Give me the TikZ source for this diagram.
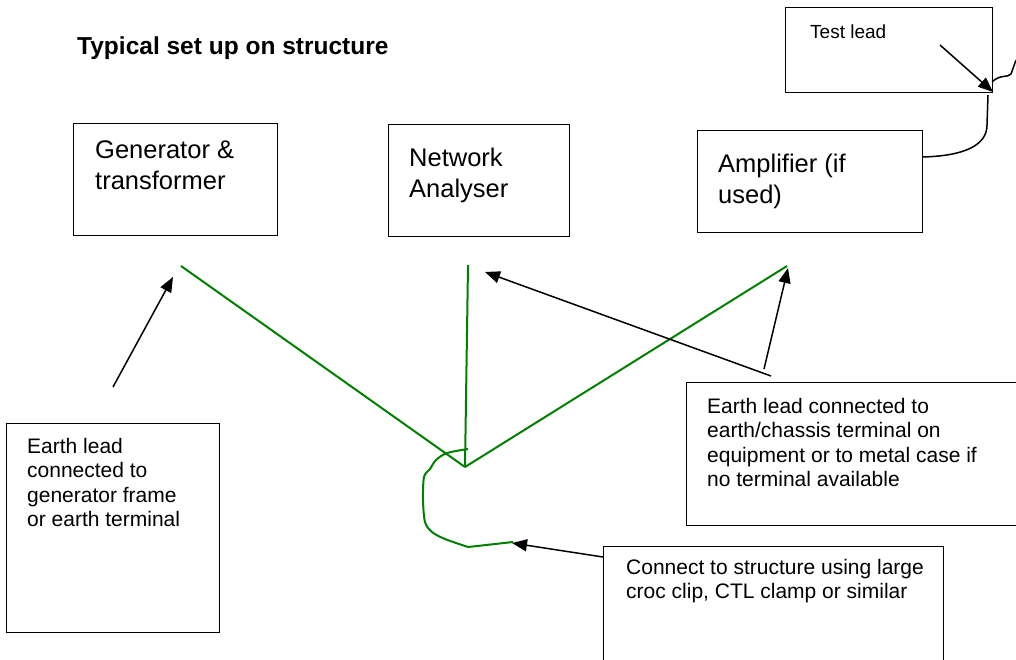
\documentclass[tikz,border=0pt]{standalone}
\usepackage{fontspec}
\setmainfont{Liberation Sans}
\usetikzlibrary{arrows.meta}
\tikzset{
  box/.style={draw=black, line width=1.4pt, inner sep=0pt, anchor=north west},
  big/.style={inner sep=0pt, anchor=north west, align=left, font=\fontsize{25.5}{31}\selectfont},
  small/.style={inner sep=0pt, anchor=north west, align=left, font=\fontsize{21}{24.5}\selectfont},
  earth/.style={draw={rgb,255:red,0;green,128;blue,0}, line width=2pt},
  ptr/.style={draw=black, line width=1.5pt, -{Triangle[length=15pt,width=12pt]}},
  wire/.style={draw=black, line width=1.5pt}
}
\begin{document}
\begin{tikzpicture}[x=1pt,y=-1pt]
\useasboundingbox (0,0) rectangle (1016,659);
\clip (0,0) rectangle (1016,659);
% title
\node[inner sep=0pt, anchor=base west, font=\bfseries\fontsize{24.5}{29}\selectfont] (title) at (77,54) {Typical set up on structure};
% equipment boxes
\node[box, minimum width=204, minimum height=112] (gen) at (73,123) {};
\node[big] (gent) at (95,140.6) {Generator \&\\transformer};
\node[box, minimum width=181, minimum height=112] (net) at (388,124) {};
\node[big] (nett) at (409,147.6) {Network\\Analyser};
\node[box, minimum width=225, minimum height=102] (amp) at (697,130) {};
\node[big] (ampt) at (718,153.6) {Amplifier (if\\used)};
\node[box, minimum width=207, minimum height=85] (tl) at (785,7) {};
\node[inner sep=0pt, anchor=base west, font=\fontsize{19}{23}\selectfont] (tlt) at (810,38) {Test lead};
% note boxes
\node[box, minimum width=213, minimum height=209] (lbox) at (6,423) {};
\node[small] (lboxt) at (27,437.9) {Earth lead\\connected to\\generator frame\\or earth terminal};
\node[box, minimum width=360, minimum height=143] (rbox) at (686,382) {};
\node[small] (rboxt) at (707,397.9) {Earth lead connected to\\earth/chassis terminal on\\equipment or to metal case if\\no terminal available};
\node[box, minimum width=340, minimum height=140] (bbox) at (603,546) {};
\node[small] (bboxt) at (626,558.9) {Connect to structure using large\\croc clip, CTL clamp or similar};
% green earth leads
\coordinate (J) at (465,467);
\coordinate (gE) at (181,266);
\coordinate (nE) at (468,265);
\coordinate (aE) at (787,266);
\draw[earth] (gE) -- (J);
\draw[earth] (nE) -- (J);
\draw[earth] (aE) -- (J);
\coordinate (clipA) at (468,449);
\coordinate (clipB) at (513,542);
\draw[earth, line join=round] plot[smooth, tension=0.5] coordinates {(clipA) (447,453) (436,460) (430,469) (424,477) (423,500) (425,522) (432,532) (445,539) (468,547)} -- (clipB);
% pointer arrows
\coordinate (lTail) at (113,387);
\coordinate (lTip) at (173,277);
\draw[ptr] (lTail) -- (lTip);
\coordinate (nTail) at (771,376);
\coordinate (nTip) at (485,272);
\draw[ptr] (nTail) -- (nTip);
\coordinate (aTail) at (764,369);
\coordinate (aTip) at (788,268);
\draw[ptr] (aTail) -- (aTip);
\coordinate (bTail) at (603,557);
\coordinate (bTip) at (512,543);
\draw[ptr] (bTail) -- (bTip);
\coordinate (tTail) at (940,45);
\coordinate (tTip) at (993,92);
\draw[ptr] (tTail) -- (tTip);
% test lead cable
\coordinate (ampOut) at (922,157);
\coordinate (cUp) at (988,95);
\draw[wire] (ampOut) .. controls (965,156) and (987,145) .. (987,125) -- (cUp);
\coordinate (wA) at (992,82);
\coordinate (wB) at (1016,60);
\draw[wire] (wA) .. controls (1000,74) and (1008,78) .. (1011,74) -- (wB);
\end{tikzpicture}
\end{document}
